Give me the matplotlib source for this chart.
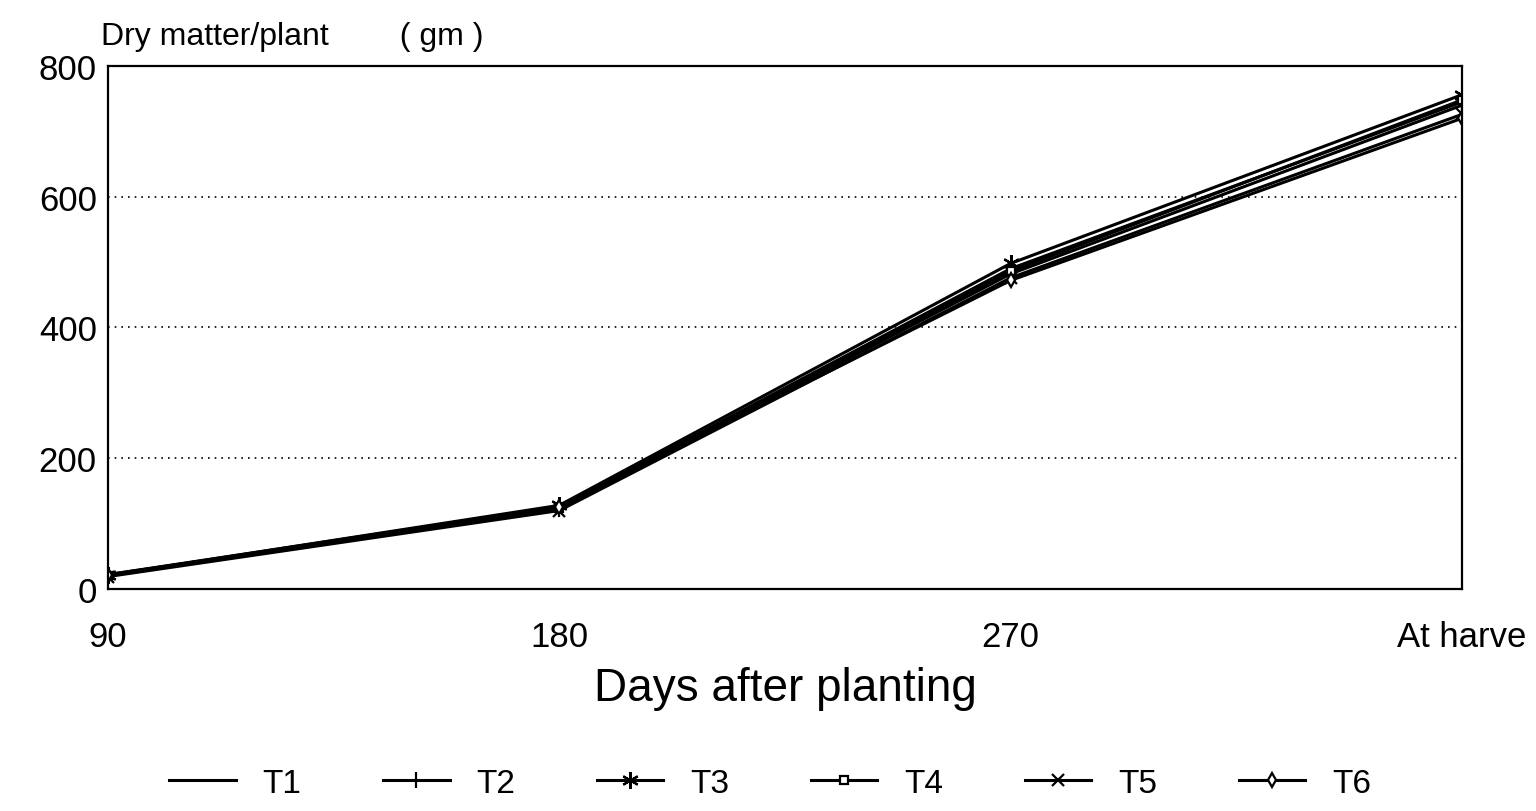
import matplotlib
matplotlib.use("Agg")
import matplotlib.pyplot as plt

# Dry matter per plant (gm) at each sampling stage
stages = ["90", "180", "270", "At harve"]
series_names = ["T1", "T2", "T3", "T4", "T5", "T6"]
t1 = [20, 125, 490, 745]
t2 = [22, 122, 482, 740]
t3 = [21, 128, 498, 756]
t4 = [20, 124, 486, 748]
t5 = [19, 120, 476, 726]
t6 = [22, 126, 472, 720]
values = [t1, t2, t3, t4, t5, t6]

markers = [None, "|", (6, 2, 0), "s", "x", "d"]
msizes = [0, 12, 12, 6, 9, 7]

plt.rcParams["font.family"] = ["Liberation Sans", "DejaVu Sans"]

fig = plt.figure(figsize=(15.36, 8.12), dpi=100)
ax = fig.add_axes([0.0703, 0.2734, 0.8815, 0.6441])

x = list(range(len(stages)))
for name, vals, m, ms in zip(series_names, values, markers, msizes):
    ax.plot(x, vals, color="black", linewidth=2.2, marker=m, markersize=ms,
            markerfacecolor="white", markeredgecolor="black",
            markeredgewidth=1.6, label=name)

ax.set_xlim(0, len(stages) - 1)
ax.set_ylim(0, 800)
ax.set_yticks([0, 200, 400, 600, 800])
ax.set_xticks(x)
ax.set_xticklabels(stages)
ax.tick_params(length=0, labelsize=25)
ax.tick_params(axis="x", pad=22)
ax.tick_params(axis="y", pad=8)
ax.yaxis.grid(True, linestyle=(0, (1, 3)), color="black", linewidth=1.2)
for sp in ax.spines.values():
    sp.set_linewidth(1.6)

ax.set_xlabel("Days after planting", fontsize=33, labelpad=10)
fig.text(0.066, 0.955, "Dry matter/plant        ( gm )", fontsize=23, ha="left", va="center")

ax.legend(loc="upper center", bbox_to_anchor=(0.489, -0.285), ncol=6, frameon=False,
          fontsize=24, handlelength=2.0, columnspacing=2.45, handletextpad=0.8)

fig.savefig("out.png", dpi=100)
